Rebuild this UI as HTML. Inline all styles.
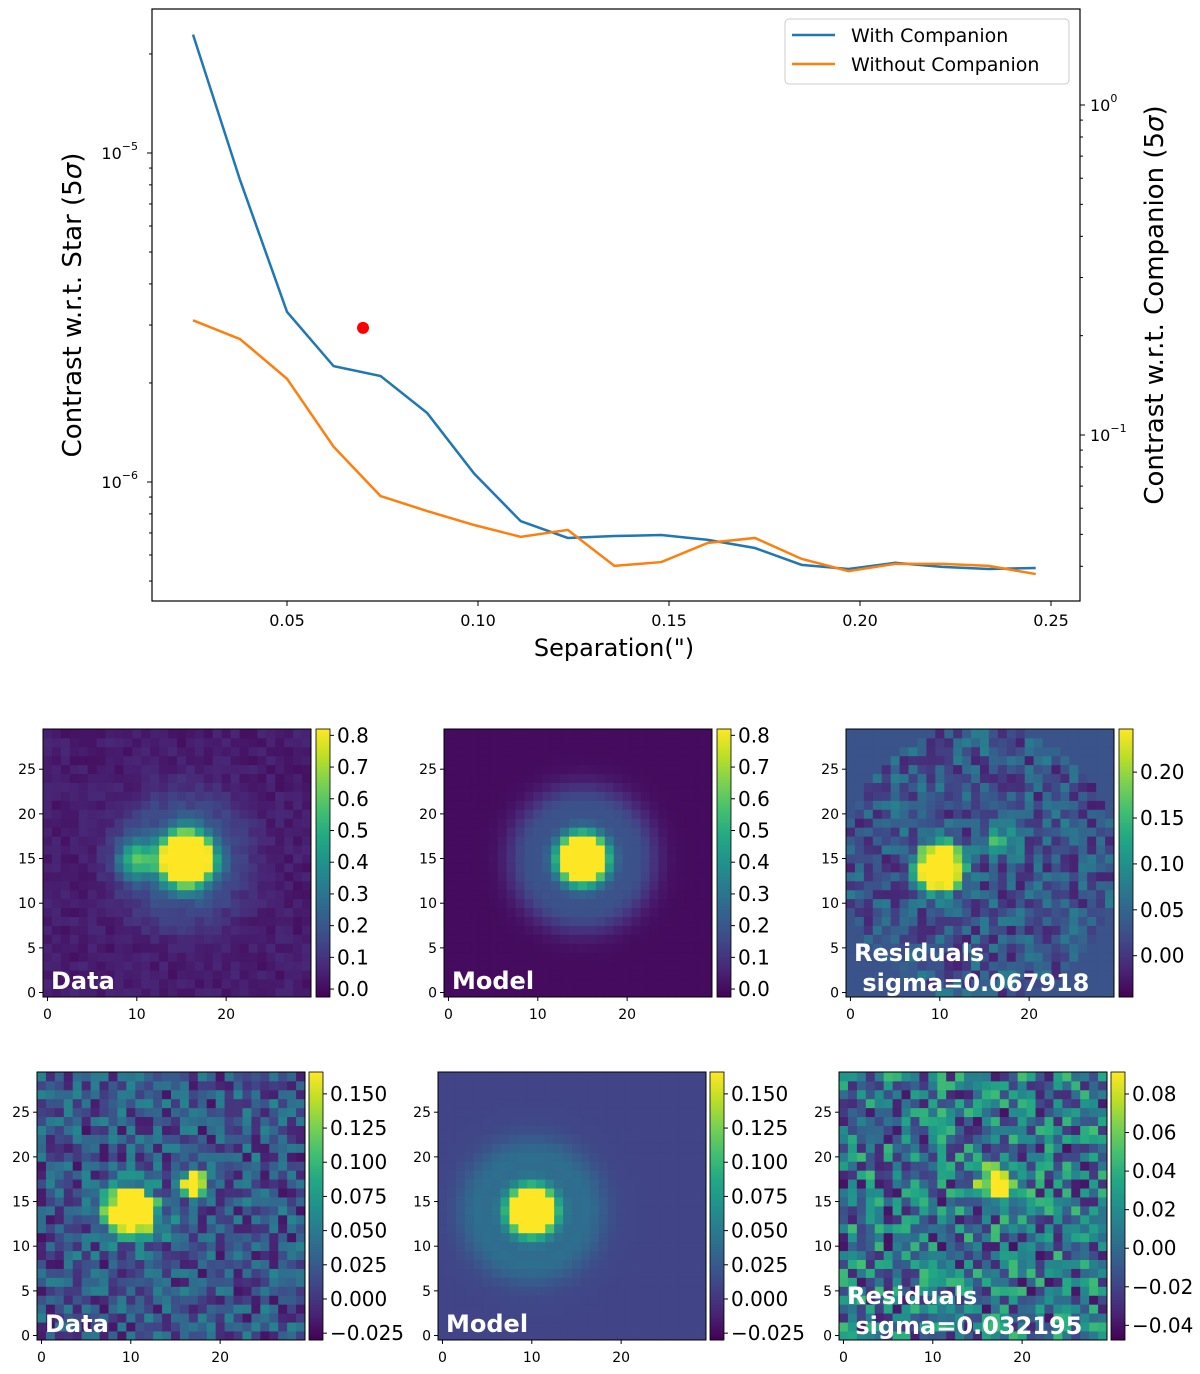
<!DOCTYPE html>
<html><head><meta charset="utf-8"><style>
body{margin:0;background:#fff;width:1200px;height:1374px;overflow:hidden}
svg{position:absolute;left:0;top:0;font-family:"DejaVu Sans","Liberation Sans",sans-serif}
</style></head><body>
<svg id="fig" width="1200" height="1374" viewBox="0 0 1200 1374"></svg>
<script>
// ---- contrast curve data ----
const sepX = [0.0254,0.0377,0.0500,0.0622,0.0745,0.0867,0.0990,0.1112,0.1235,0.1357,0.1480,0.1602,0.1725,0.1847,0.1970,0.2092,0.2215,0.2337,0.2460];
const withComp = [2.29e-5,8.28e-6,3.29e-6,2.25e-6,2.10e-6,1.62e-6,1.06e-6,7.6e-7,6.76e-7,6.85e-7,6.90e-7,6.67e-7,6.30e-7,5.60e-7,5.44e-7,5.68e-7,5.52e-7,5.44e-7,5.48e-7];
const withoutComp = [3.10e-6,2.72e-6,2.06e-6,1.28e-6,9.06e-7,8.16e-7,7.40e-7,6.81e-7,7.15e-7,5.56e-7,5.71e-7,6.53e-7,6.76e-7,5.84e-7,5.36e-7,5.64e-7,5.64e-7,5.56e-7,5.25e-7];
const companionPt = [0.0699, 2.94e-6];
const xTicks = [0.05,0.10,0.15,0.20,0.25];
const xTickLabels = ["0.05","0.10","0.15","0.20","0.25"];

const NS="http://www.w3.org/2000/svg";
const svg=document.getElementById('fig');
function mk(tag,attrs,parent){const e=document.createElementNS(NS,tag);for(const k in attrs)e.setAttribute(k,attrs[k]);(parent||svg).appendChild(e);return e;}

const AX={l:152,r:1080,t:9,b:601};
const sx=v=>287+(v-0.05)*3820;
const sy=v=>153+(-5-Math.log10(v))*329;
const syR=v=>105+(0-Math.log10(v))*330;
const gTop=mk('g',{});


const frame=mk('rect',{x:AX.l,y:AX.t,width:AX.r-AX.l,height:AX.b-AX.t,fill:'none',stroke:'#000','stroke-width':1.2},gTop);


xTicks.forEach((t,i)=>{const x=sx(t);mk('line',{x1:x,x2:x,y1:AX.b,y2:AX.b+5,stroke:'#000'},gTop);
 const tx=mk('text',{x:x,y:AX.b+25,'text-anchor':'middle','font-size':16},gTop);tx.textContent=xTickLabels[i];
 
 });
for(let d=-7;d<=-4;d++){for(let m=1;m<10;m++){const v=m*Math.pow(10,d);const y=sy(v);if(y<AX.t||y>AX.b)continue;
 mk('line',{x1:AX.l-(m==1?5:3),x2:AX.l,y1:y,y2:y,stroke:'#000'},gTop);
 if(m==1){const t=mk('text',{x:AX.l-14,y:y+6,'text-anchor':'end','font-size':16},gTop);t.innerHTML='10<tspan dy="-9" font-size="11">−'+(-d)+'</tspan>';
 
 }}}
for(let d=-2;d<=0;d++){for(let m=1;m<10;m++){const v=m*Math.pow(10,d);const y=syR(v);if(y<AX.t||y>AX.b)continue;
 mk('line',{x1:AX.r,x2:AX.r+(m==1?5:3),y1:y,y2:y,stroke:'#000'},gTop);
 if(m==1){const t=mk('text',{x:AX.r+10,y:y+6,'font-size':16},gTop);t.innerHTML='10<tspan dy="-9" font-size="11">'+(d==0?'0':'−'+(-d))+'</tspan>';
 
 }}}
function line(arr,col,name){const p=mk('polyline',{points:arr.map((v,i)=>sx(sepX[i])+','+sy(v)).join(' '),fill:'none',stroke:col,'stroke-width':2.5},gTop);
 
 }
line(withComp,'#1f77b4','with-companion-line');
line(withoutComp,'#ff7f0e','without-companion-line');
const dot=mk('circle',{cx:sx(companionPt[0]),cy:sy(companionPt[1]),r:6,fill:'#ff0000'},gTop);


let t;
t=mk('text',{x:614,y:656,'text-anchor':'middle','font-size':24},gTop);t.textContent='Separation(")';


t=mk('text',{x:0,y:0,'text-anchor':'middle','font-size':26,transform:'translate(81,305) rotate(-90)'},gTop);t.innerHTML='Contrast w.r.t. Star (5<tspan font-style="italic">σ</tspan>)';


t=mk('text',{x:0,y:0,'text-anchor':'middle','font-size':26,transform:'translate(1163,305) rotate(-90)'},gTop);t.innerHTML='Contrast w.r.t. Companion (5<tspan font-style="italic">σ</tspan>)';


const lg=mk('g',{},gTop);


mk('rect',{x:785,y:19,width:284,height:65,rx:4,fill:'#fff',stroke:'#ccc'},lg);
mk('line',{x1:792,x2:835,y1:35,y2:35,stroke:'#1f77b4','stroke-width':2.5},lg);
mk('line',{x1:792,x2:835,y1:64,y2:64,stroke:'#ff7f0e','stroke-width':2.5},lg);
t=mk('text',{x:851,y:42,'font-size':19},lg);t.textContent='With Companion';


t=mk('text',{x:851,y:71,'font-size':19},lg);t.textContent='Without Companion';



// ---- heatmaps ----
const stops=[[0x44,0x01,0x54],[0x48,0x24,0x75],[0x41,0x44,0x87],[0x35,0x5f,0x8d],[0x2a,0x78,0x8e],[0x21,0x91,0x8c],[0x22,0xa8,0x84],[0x44,0xbf,0x70],[0x7a,0xd1,0x51],[0xbd,0xdf,0x26],[0xfd,0xe7,0x25]];
function vir(f){f=Math.max(0,Math.min(1,f));const p=f*10,i=Math.min(9,Math.floor(p)),r=p-i;const a=stops[i],b=stops[i+1];return 'rgb('+a.map((c,k)=>Math.round(c+(b[k]-c)*r)).join(',')+')';}
let seed=12345;function rnd(){seed=(seed*1103515245+12345)%2147483648;return seed/2147483648;}
function blob(x,y,cx,cy,r,amp){const d2=(x-cx)**2+(y-cy)**2;return amp*Math.exp(-d2/(2*r*r));}
function ring(x,y,cx,cy,R,w,amp){const d=Math.sqrt((x-cx)**2+(y-cy)**2);return amp*Math.exp(-((d-R)**2)/(2*w*w));}
const panels=[
 {x:43,y:729,cb:316,vmin:-0.025,vmax:0.82,ticks:[0,0.1,0.2,0.3,0.4,0.5,0.6,0.7,0.8],fmt:1,label:['Data'],
  f:(x,y)=>0.04+0.06*(rnd()-0.5)+blob(x,y,15.5,15,1.8,2.0)+blob(x,y,10,15,1.4,0.45)+ring(x,y,15,15,5,2.5,0.12)},
 {x:444,y:729,cb:717,vmin:-0.025,vmax:0.82,ticks:[0,0.1,0.2,0.3,0.4,0.5,0.6,0.7,0.8],fmt:1,label:['Model'],
  f:(x,y)=>blob(x,y,15,15,1.75,2.0)+ring(x,y,15,15,6,1.8,0.18)},
 {x:846,y:729,cb:1119,vmin:-0.045,vmax:0.247,ticks:[0,0.05,0.1,0.15,0.2],fmt:2,label:['Residuals',' sigma=0.067918'],
  f:(x,y)=>{const d=Math.hypot(x-14.5,y-14.5);if(d>15.3)return 0.03;return 0.03+0.1*(rnd()-0.5)+blob(x,y,10,14,1.5,0.6)+blob(x,y,17,17,1.1,0.13);}},
 {x:37,y:1072,cb:309,vmin:-0.030,vmax:0.166,ticks:[-0.025,0,0.025,0.05,0.075,0.1,0.125,0.15],fmt:3,label:['Data'],
  f:(x,y)=>0.02+0.08*(rnd()-0.5)+blob(x,y,10,14,1.6,0.4)+blob(x,y,17,17,0.9,0.25)+blob(x,y,14,12,1,0.05)},
 {x:438,y:1072,cb:710,vmin:-0.030,vmax:0.166,ticks:[-0.025,0,0.025,0.05,0.075,0.1,0.125,0.15],fmt:3,label:['Model'],
  f:(x,y)=>0.01+blob(x,y,10,14,1.6,0.45)+ring(x,y,10,14,6,1.8,0.03)},
 {x:839,y:1072,cb:1111,vmin:-0.0476,vmax:0.0914,ticks:[-0.04,-0.02,0,0.02,0.04,0.06,0.08],fmt:2,label:['Residuals',' sigma=0.032195'],
  f:(x,y)=>0.004+0.09*(rnd()-0.5)+blob(x,y,17,17,1.3,0.12)+blob(x,y,20,16,0.8,0.05)}
];
const W=268,N=30,cs=W/N;
panels.forEach((P,pi)=>{
 const g=mk('g',{});
 
 
 for(let j=0;j<N;j++)for(let i=0;i<N;i++){
  const v=P.f(i,j);mk('rect',{x:(P.x+i*cs).toFixed(2),y:(P.y+W-(j+1)*cs).toFixed(2),width:(cs+0.4).toFixed(2),height:(cs+0.4).toFixed(2),fill:vir((v-P.vmin)/(P.vmax-P.vmin))},g);
 }
 mk('rect',{x:P.x,y:P.y,width:W,height:W,fill:'none',stroke:'#000','stroke-width':1},g);
 [0,5,10,15,20,25].forEach(k=>{const y=P.y+W-(k+0.5)*cs;mk('line',{x1:P.x-4,x2:P.x,y1:y,y2:y,stroke:'#000'},g);
  const tt=mk('text',{x:P.x-7,y:y+5,'text-anchor':'end','font-size':14},g);tt.textContent=k;
  
  });
 [0,10,20].forEach(k=>{const x=P.x+(k+0.5)*cs;mk('line',{x1:x,x2:x,y1:P.y+W,y2:P.y+W+4,stroke:'#000'},g);
  const tt=mk('text',{x:x,y:P.y+W+22,'text-anchor':'middle','font-size':14},g);tt.textContent=k;
  
  });
 const lab=mk('text',{x:P.x+8,y:P.y+W-(P.label.length>1?36:8),fill:'#fff','font-weight':'bold','font-size':24},g);
 P.label.forEach((s,k)=>{const ts=mk('tspan',{x:P.x+8,dy:k?30:0},lab);ts.textContent=s;});
 
 
 const cb=mk('g',{},g);
 
 
 for(let k=0;k<100;k++){mk('rect',{x:P.cb,y:(P.y+W-(k+1)*W/100).toFixed(2),width:14,height:(W/100+0.5).toFixed(2),fill:vir((k+0.5)/100)},cb);}
 mk('rect',{x:P.cb,y:P.y,width:14,height:W,fill:'none',stroke:'#000','stroke-width':0.8},cb);
 P.ticks.forEach(v=>{const y=P.y+W-(v-P.vmin)/(P.vmax-P.vmin)*W;mk('line',{x1:P.cb+14,x2:P.cb+18,y1:y,y2:y,stroke:'#000'},cb);
  const tt=mk('text',{x:P.cb+21,y:y+7,'font-size':20},cb);tt.textContent=(v<0?'−':'')+Math.abs(v).toFixed(P.fmt);
  
  });
});
</script>
</body></html>
